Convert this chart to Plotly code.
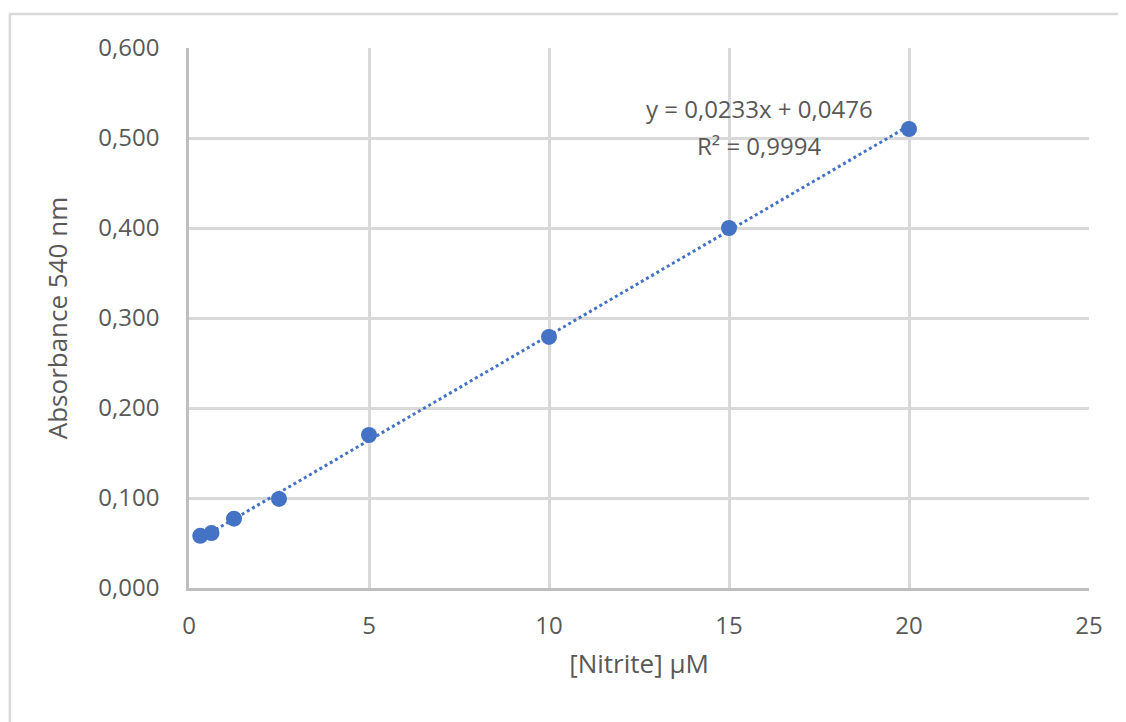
import plotly.graph_objects as go

# Data
nitrite_uM = [0.3125, 0.625, 1.25, 2.5, 5, 10, 15, 20]
absorbance = [0.058, 0.061, 0.077, 0.099, 0.170, 0.279, 0.400, 0.510]
slope = 0.0233
intercept = 0.0476
r2 = 0.9994
x_ticks = [0, 5, 10, 15, 20, 25]
y_ticks = [0.0, 0.1, 0.2, 0.3, 0.4, 0.5, 0.6]
y_tick_labels = ["0,000", "0,100", "0,200", "0,300", "0,400", "0,500", "0,600"]

BLUE = "#4472C4"
GRID = "#D9D9D9"
TEXT = "#595959"
FONT = "Open Sans"

trend_x = [min(nitrite_uM), max(nitrite_uM)]
trend_y = [slope * v + intercept for v in trend_x]

fig = go.Figure()
fig.add_trace(go.Scatter(
    x=trend_x, y=trend_y, mode="lines",
    line=dict(color=BLUE, width=3, dash="dot"),
    showlegend=False, hoverinfo="skip",
))
fig.add_trace(go.Scatter(
    x=nitrite_uM, y=absorbance, mode="markers",
    marker=dict(color=BLUE, size=16),
    showlegend=False,
))

fmt = lambda v: f"{v:.4f}".replace(".", ",")
fig.add_annotation(
    x=15.84, y=0.533, xref="x", yref="y",
    text=f"y = {fmt(slope)}x + {fmt(intercept)}",
    showarrow=False, align="center",
    font=dict(family=FONT, size=24, color=TEXT),
)
fig.add_annotation(
    x=15.84, y=0.492, xref="x", yref="y",
    text=f"R² = {fmt(r2)}",
    showarrow=False, align="center",
    font=dict(family=FONT, size=24, color=TEXT),
)

# outer chart border
fig.add_shape(type="rect", xref="paper", yref="paper",
              x0=-0.199, x1=1.1, y0=-0.4, y1=1.063,
              line=dict(color=GRID, width=2.5), fillcolor="rgba(0,0,0,0)",
              layer="below")

fig.update_layout(
    width=1118, height=714,
    margin=dict(l=181, r=37, t=40, b=134),
    paper_bgcolor="white", plot_bgcolor="white",
    font=dict(family=FONT, size=24, color=TEXT),
)
fig.update_xaxes(
    range=[0, 25], tickvals=x_ticks, ticktext=[str(t) for t in x_ticks],
    showgrid=True, gridcolor=GRID, gridwidth=2.5,
    showline=True, linecolor="#BFBFBF", linewidth=2.5, mirror=False,
    zeroline=False, ticks="outside", ticklen=14, tickcolor="rgba(0,0,0,0)",
    title=dict(text="[Nitrite] µM", font=dict(family=FONT, size=26, color=TEXT), standoff=16),
    tickfont=dict(family=FONT, size=24, color=TEXT),
)
fig.update_yaxes(
    range=[0, 0.6], tickvals=y_ticks, ticktext=y_tick_labels,
    showgrid=True, gridcolor=GRID, gridwidth=2.5,
    showline=True, linecolor="#BFBFBF", linewidth=2.5,
    zeroline=False, ticks="outside", ticklen=22, tickcolor="rgba(0,0,0,0)",
    title=dict(text="Absorbance 540 nm", font=dict(family=FONT, size=26, color=TEXT), standoff=24),
    tickfont=dict(family=FONT, size=24, color=TEXT),
)

fig.write_html("out.html")
